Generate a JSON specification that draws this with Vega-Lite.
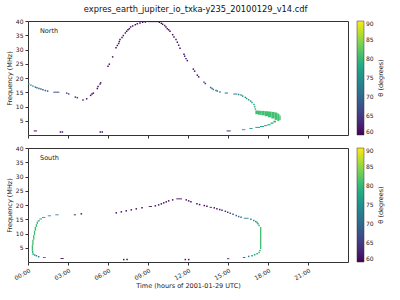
{
  "$schema": "https://vega.github.io/schema/vega-lite/v6.json",
  "background": "white",
  "padding": {"left": 5, "top": 5, "right": 5, "bottom": 5},
  "title": {"text": "expres_earth_jupiter_io_txka-y235_20100129_v14.cdf", "fontSize": 8.3, "fontWeight": "normal", "font": "DejaVu Sans", "color": "#111", "offset": 4, "anchor": "middle"},
  "config": {
    "font": "DejaVu Sans",
    "view": {"stroke": "#333", "strokeWidth": 1},
    "axis": {"domain": false, "grid": false, "labelFontSize": 6, "titleFontSize": 6.5, "titleFontWeight": "normal", "labelColor": "#222", "titleColor": "#222", "tickColor": "#333", "tickSize": 3, "labelPadding": 2, "labelFont": "DejaVu Sans", "titleFont": "DejaVu Sans"},
    "legend": {"gradientLength": 114, "gradientThickness": 7, "labelFontSize": 6, "titleFontSize": 6.5, "titleFontWeight": "normal", "offset": 9, "padding": 0, "titleOrient": "right", "titleAnchor": "middle", "titleAlign": "center", "titleBaseline": "top", "titlePadding": 4, "gradientStrokeColor": "#333", "gradientStrokeWidth": 0.5, "labelOffset": 3, "labelColor": "#222", "titleColor": "#222", "labelOverlap": false}
  },
  "datasets": {
    "northDots": [
      {"t":0.05,"f":17.96,"th":74},{"t":0.22,"f":17.5,"th":73},{"t":0.37,"f":17.15,"th":72},{"t":0.55,"f":16.8,"th":71},{"t":0.67,"f":16.55,"th":71},{"t":0.82,"f":16.3,"th":70},{"t":0.97,"f":16.1,"th":70},{"t":1.12,"f":15.85,"th":69},{"t":1.3,"f":15.6,"th":69},{"t":1.47,"f":15.4,"th":68},
      {"t":2.9,"f":14.7,"th":67},{"t":3.05,"f":14.4,"th":66},{"t":3.55,"f":13.3,"th":64},{"t":3.7,"f":13.1,"th":64},
      {"t":4.4,"f":12.7,"th":61},{"t":4.7,"f":13.9,"th":61},{"t":4.8,"f":14.35,"th":61},{"t":4.9,"f":14.7,"th":61},{"t":5.2,"f":16.3,"th":61},{"t":5.25,"f":17.0,"th":61},{"t":5.4,"f":17.85,"th":61},{"t":5.45,"f":18.3,"th":61},
      {"t":6.0,"f":24.1,"th":61},{"t":6.1,"f":24.85,"th":61},{"t":6.35,"f":27.4,"th":61},{"t":6.6,"f":30.6,"th":61},{"t":6.7,"f":31.4,"th":61},{"t":6.8,"f":32.1,"th":61},{"t":6.85,"f":32.8,"th":61},{"t":6.9,"f":33.5,"th":61},{"t":7.05,"f":34.2,"th":61},{"t":7.15,"f":34.9,"th":61},{"t":7.3,"f":35.8,"th":61},{"t":7.4,"f":36.4,"th":61},{"t":7.5,"f":36.9,"th":61},{"t":7.6,"f":37.3,"th":61},{"t":7.7,"f":37.9,"th":61},{"t":7.85,"f":38.25,"th":61},{"t":8.05,"f":38.7,"th":61},{"t":8.2,"f":39.05,"th":61},{"t":8.4,"f":39.3,"th":61},{"t":8.6,"f":39.55,"th":61},{"t":8.8,"f":39.65,"th":61},
      {"t":9.85,"f":39.55,"th":61},{"t":10.0,"f":39.2,"th":61},{"t":10.1,"f":38.85,"th":61},{"t":10.25,"f":38.4,"th":61},{"t":10.35,"f":37.9,"th":61},{"t":10.45,"f":37.3,"th":61},{"t":10.55,"f":36.9,"th":61},{"t":10.65,"f":36.4,"th":61},{"t":10.85,"f":35.2,"th":61},{"t":10.95,"f":34.4,"th":61},{"t":11.1,"f":33.5,"th":61},{"t":11.2,"f":32.55,"th":61},{"t":11.3,"f":31.5,"th":61},{"t":11.4,"f":30.45,"th":61},{"t":11.7,"f":28.35,"th":61},{"t":11.75,"f":27.65,"th":61},{"t":11.85,"f":26.8,"th":61},{"t":11.95,"f":26.1,"th":61},{"t":12.4,"f":23.1,"th":61},{"t":12.5,"f":22.4,"th":61},{"t":12.7,"f":21.0,"th":61},{"t":12.8,"f":20.4,"th":61},{"t":13.2,"f":18.55,"th":64},{"t":13.3,"f":18.06,"th":64},
      {"t":13.7,"f":16.66,"th":71},{"t":13.8,"f":16.3,"th":72},{"t":13.9,"f":15.96,"th":72},{"t":14.1,"f":15.6,"th":72},{"t":14.2,"f":15.4,"th":72},{"t":14.4,"f":15.05,"th":72},
      {"t":15.8,"f":14.2,"th":73},{"t":15.98,"f":14.0,"th":74},{"t":16.1,"f":13.65,"th":74},{"t":16.3,"f":13.2,"th":75},{"t":16.4,"f":12.8,"th":75},{"t":16.55,"f":12.35,"th":76},{"t":16.7,"f":11.9,"th":76},{"t":16.8,"f":11.4,"th":77},{"t":16.95,"f":10.7,"th":78},{"t":17.0,"f":9.9,"th":79},{"t":17.05,"f":9.1,"th":80},
      {"t":2.43,"f":1.05,"th":61},{"t":2.58,"f":1.05,"th":61},{"t":5.42,"f":1.05,"th":61},{"t":5.57,"f":1.05,"th":61}
    ],
    "northCells": [
      {"t":1.9,"t2":2.35,"f":14.85,"f2":15.2,"th":67},
      {"t":4.05,"t2":4.2,"f":12.1,"f2":12.45,"th":61},
      {"t":9.0,"t2":9.75,"f":39.6,"f2":40,"th":61},
      {"t":14.75,"t2":15.0,"f":14.55,"f2":14.9,"th":72},
      {"t":15.4,"t2":15.7,"f":14.2,"f2":14.55,"th":73},
      {"t":17.05,"t2":17.25,"f":7.3,"f2":8.6,"th":81},
      {"t":17.25,"t2":17.5,"f":7.1,"f2":8.5,"th":81},
      {"t":17.5,"t2":17.75,"f":6.9,"f2":8.45,"th":81},
      {"t":17.75,"t2":18.0,"f":6.6,"f2":8.35,"th":81},
      {"t":18.0,"t2":18.25,"f":6.2,"f2":8.25,"th":81},
      {"t":18.25,"t2":18.5,"f":5.8,"f2":8.1,"th":81},
      {"t":18.5,"t2":18.7,"f":5.3,"f2":7.9,"th":81},
      {"t":18.7,"t2":18.85,"f":4.9,"f2":7.5,"th":81},
      {"t":18.85,"t2":18.95,"f":5.3,"f2":6.8,"th":81},
      {"t":18.4,"t2":18.6,"f":4.4,"f2":5.0,"th":80},
      {"t":18.2,"t2":18.4,"f":3.9,"f2":4.4,"th":80},
      {"t":17.95,"t2":18.2,"f":3.4,"f2":3.8,"th":79},
      {"t":17.7,"t2":17.95,"f":3.1,"f2":3.45,"th":79},
      {"t":17.4,"t2":17.7,"f":2.8,"f2":3.15,"th":78},
      {"t":17.05,"t2":17.4,"f":2.5,"f2":2.85,"th":77},
      {"t":16.6,"t2":16.85,"f":2.15,"f2":2.45,"th":76},
      {"t":16.05,"t2":16.3,"f":1.7,"f2":2.0,"th":74},
      {"t":14.9,"t2":15.2,"f":1.25,"f2":1.6,"th":64},
      {"t":0.43,"t2":0.68,"f":1.25,"f2":1.6,"th":61}
    ],
    "southDots": [
      {"t":0.38,"f":2.8,"th":77},{"t":0.5,"f":2.45,"th":75},{"t":0.63,"f":2.2,"th":74},{"t":0.8,"f":1.85,"th":72},
      {"t":4.0,"f":16.9,"th":61},{"t":6.62,"f":17.25,"th":61},{"t":7.0,"f":17.6,"th":61},{"t":7.37,"f":17.95,"th":61},{"t":7.75,"f":18.3,"th":61},{"t":8.12,"f":18.65,"th":61},{"t":8.55,"f":19.0,"th":61},
      {"t":9.55,"f":19.7,"th":61},{"t":9.8,"f":20.05,"th":61},{"t":10.0,"f":20.4,"th":61},{"t":10.18,"f":20.75,"th":61},{"t":10.37,"f":21.1,"th":61},{"t":10.55,"f":21.45,"th":61},{"t":10.85,"f":21.8,"th":61},
      {"t":11.87,"f":21.8,"th":61},{"t":12.05,"f":21.45,"th":61},{"t":12.22,"f":21.1,"th":61},{"t":12.67,"f":20.4,"th":61},{"t":12.87,"f":20.15,"th":61},{"t":13.22,"f":19.8,"th":61},{"t":13.42,"f":19.57,"th":61},
      {"t":13.97,"f":19.0,"th":61},{"t":14.17,"f":18.65,"th":62},{"t":14.38,"f":18.4,"th":62},{"t":14.55,"f":18.15,"th":63},{"t":14.8,"f":17.8,"th":64},{"t":14.98,"f":17.45,"th":65},{"t":15.17,"f":17.1,"th":66},{"t":15.38,"f":16.75,"th":67},{"t":15.62,"f":16.3,"th":69},{"t":15.8,"f":15.95,"th":70},{"t":15.98,"f":15.7,"th":71},
      {"t":16.72,"f":15.0,"th":74},{"t":16.93,"f":14.55,"th":75},{"t":17.08,"f":14.2,"th":76},{"t":17.18,"f":13.85,"th":77},{"t":17.25,"f":13.4,"th":78},{"t":17.33,"f":12.8,"th":79},
      {"t":17.4,"f":4.05,"th":80},{"t":17.33,"f":3.35,"th":79},{"t":17.18,"f":2.9,"th":78},{"t":17.0,"f":2.55,"th":77},{"t":16.8,"f":2.2,"th":75},{"t":16.55,"f":1.95,"th":73},
      {"t":7.18,"f":0.85,"th":61},{"t":7.43,"f":0.85,"th":61},{"t":11.8,"f":0.85,"th":61},{"t":12.05,"f":0.85,"th":61}
    ],
    "southCells": [
      {"t":2.05,"t2":2.3,"f":16.4,"f2":16.7,"th":73},
      {"t":1.48,"t2":1.73,"f":16.05,"f2":16.35,"th":75},
      {"t":1.05,"t2":1.3,"f":15.45,"f2":15.8,"th":78},
      {"t":0.85,"t2":1.05,"f":14.9,"f2":15.3,"th":80},
      {"t":0.73,"t2":0.88,"f":14.2,"f2":14.7,"th":80},
      {"t":0.65,"t2":0.75,"f":13.3,"f2":14.2,"th":81},
      {"t":0.58,"t2":0.68,"f":12.3,"f2":13.3,"th":81},
      {"t":0.5,"t2":0.61,"f":11.0,"f2":12.3,"th":81},
      {"t":0.44,"t2":0.54,"f":9.5,"f2":11.0,"th":81},
      {"t":0.38,"t2":0.48,"f":7.8,"f2":9.5,"th":81},
      {"t":0.32,"t2":0.42,"f":6.0,"f2":7.8,"th":81},
      {"t":0.28,"t2":0.38,"f":4.0,"f2":6.0,"th":81},
      {"t":0.3,"t2":0.4,"f":3.2,"f2":4.0,"th":80},
      {"t":1.12,"t2":1.33,"f":1.45,"f2":1.75,"th":67},
      {"t":2.43,"t2":2.68,"f":1.1,"f2":1.4,"th":61},
      {"t":3.43,"t2":3.6,"f":16.4,"f2":16.7,"th":61},
      {"t":9.05,"t2":9.3,"f":19.3,"f2":19.6,"th":61},
      {"t":11.12,"t2":11.55,"f":22.0,"f2":22.3,"th":60},
      {"t":13.62,"t2":13.8,"f":19.05,"f2":19.35,"th":61},
      {"t":16.18,"t2":16.55,"f":15.2,"f2":15.5,"th":73},
      {"t":17.4,"t2":17.5,"f":4.6,"f2":12.3,"th":81},
      {"t":16.12,"t2":16.3,"f":1.45,"f2":1.75,"th":65},
      {"t":14.93,"t2":15.1,"f":1.0,"f2":1.3,"th":61}
    ]
  },
  "spacing": 5,
  "resolve": {"scale": {"color": "independent"}},
  "vconcat": [
    {
      "width": 320, "height": 114,
      "layer": [
        {
          "data": {"name": "northCells"},
          "mark": {"type": "rect"},
          "encoding": {
            "x": {"field": "t", "type": "quantitative", "scale": {"domain": [0, 24], "nice": false}, "axis": {"values": [0,3,6,9,12,15,18,21], "tickCount": 10, "labels": false, "title": null}},
            "x2": {"field": "t2"},
            "y": {"field": "f", "type": "quantitative", "scale": {"domain": [0, 40], "nice": false}, "axis": {"values": [5,10,15,20,25,30,35,40], "tickCount": 10, "title": "Frequency (MHz)", "titlePadding": 3, "labelOverlap": false}},
            "y2": {"field": "f2"},
            "color": {"field": "th", "type": "quantitative", "scale": {"scheme": "viridis", "domain": [60, 90]}, "legend": {"title": "θ (degrees)", "values": [60,65,70,75,80,85,90], "encode": {"title": {"update": {"angle": {"value": -90}}}}}}
          }
        },
        {
          "data": {"name": "northDots"},
          "mark": {"type": "square", "size": 2.2, "opacity": 1},
          "encoding": {
            "x": {"field": "t", "type": "quantitative"},
            "y": {"field": "f", "type": "quantitative"},
            "color": {"field": "th", "type": "quantitative"}
          }
        },
        {
          "data": {"values": [{"label": "North"}]},
          "mark": {"type": "text", "align": "left", "baseline": "middle", "fontSize": 6.5, "color": "#222"},
          "encoding": {"text": {"field": "label"}, "x": {"datum": 0.9, "type": "quantitative"}, "y": {"datum": 36.5, "type": "quantitative"}}
        }
      ]
    },
    {
      "width": 320, "height": 114,
      "layer": [
        {
          "data": {"name": "southCells"},
          "mark": {"type": "rect"},
          "encoding": {
            "x": {"field": "t", "type": "quantitative", "scale": {"domain": [0, 24], "nice": false}, "axis": {"values": [0,3,6,9,12,15,18,21], "tickCount": 10, "labelExpr": "(datum.value < 10 ? '0' : '') + datum.value + ':00'", "labelAngle": -30, "labelAlign": "right", "labelBaseline": "top", "labelOverlap": false, "title": "Time (hours of 2001-01-29 UTC)", "titlePadding": 2}},
            "x2": {"field": "t2"},
            "y": {"field": "f", "type": "quantitative", "scale": {"domain": [0, 40], "nice": false}, "axis": {"values": [5,10,15,20,25,30,35,40], "tickCount": 10, "title": "Frequency (MHz)", "titlePadding": 3, "labelOverlap": false}},
            "y2": {"field": "f2"},
            "color": {"field": "th", "type": "quantitative", "scale": {"scheme": "viridis", "domain": [60, 90]}, "legend": {"title": "θ (degrees)", "values": [60,65,70,75,80,85,90], "encode": {"title": {"update": {"angle": {"value": -90}}}}}}
          }
        },
        {
          "data": {"name": "southDots"},
          "mark": {"type": "square", "size": 2.2, "opacity": 1},
          "encoding": {
            "x": {"field": "t", "type": "quantitative"},
            "y": {"field": "f", "type": "quantitative"},
            "color": {"field": "th", "type": "quantitative"}
          }
        },
        {
          "data": {"values": [{"label": "South"}]},
          "mark": {"type": "text", "align": "left", "baseline": "middle", "fontSize": 6.5, "color": "#222"},
          "encoding": {"text": {"field": "label"}, "x": {"datum": 0.9, "type": "quantitative"}, "y": {"datum": 36.5, "type": "quantitative"}}
        }
      ]
    }
  ]
}
